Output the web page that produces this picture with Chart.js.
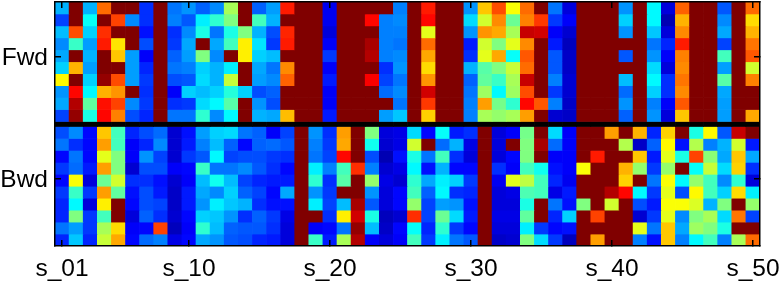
<!DOCTYPE html>
<html>
<head>
<meta charset="utf-8">
<script src="https://cdn.jsdelivr.net/npm/chart.js@4"></script>
<style>
  html, body { margin: 0; padding: 0; background: #fff; overflow: hidden; }
  canvas { display: block; }
</style>
</head>
<body>
<canvas id="myChart" width="781" height="283"></canvas>
<script>
const categories = [
  's_01','s_02','s_03','s_04','s_05','s_06','s_07','s_08','s_09','s_10',
  's_11','s_12','s_13','s_14','s_15','s_16','s_17','s_18','s_19','s_20',
  's_21','s_22','s_23','s_24','s_25','s_26','s_27','s_28','s_29','s_30',
  's_31','s_32','s_33','s_34','s_35','s_36','s_37','s_38','s_39','s_40',
  's_41','s_42','s_43','s_44','s_45','s_46','s_47','s_48','s_49','s_50'
];
const xTickLabels = ['s_01', 's_10', 's_20', 's_30', 's_40', 's_50'];
const yTickLabels = ['Bwd', 'Fwd'];

// one list per column, top row first, 0-100 along the jet colormap
const fwdColumns = [
  [30,19,31,26,29,33,63,27,29,19],
  [100,100,80,43,100,70,100,87,95,98],
  [30,38,33,28,30,28,33,37,47,40],
  [77,100,83,85,100,100,98,70,86,87],
  [100,81,100,65,68,100,80,73,81,75],
  [100,26,100,100,28,28,28,100,26,20],
  [17,17,14,20,12,16,18,17,18,16],
  [100,100,100,100,100,100,100,100,100,100],
  [24,25,17,18,22,24,20,12,17,24],
  [27,21,26,29,28,25,21,33,18,24],
  [22,36,40,100,50,33,34,31,34,42],
  [26,42,24,29,26,30,30,33,37,26],
  [54,50,40,44,100,36,57,41,46,37],
  [100,100,50,64,64,100,100,33,100,100],
  [22,44,30,35,33,29,28,20,27,30],
  [28,30,20,18,31,24,26,22,20,29],
  [85,100,84,85,100,74,78,100,100,69],
  [100,100,100,100,100,100,100,100,100,100],
  [100,100,100,100,100,100,100,100,100,100],
  [11,11,9,12,18,12,15,12,12,15],
  [100,100,100,100,100,100,100,100,100,100],
  [100,100,100,100,100,100,100,100,100,100],
  [100,87,100,96,95,100,88,100,100,100],
  [100,25,25,25,25,17,19,23,100,28],
  [25,26,25,24,26,27,24,26,24,32],
  [100,100,100,100,100,100,100,100,100,100],
  [85,87,60,77,71,66,73,92,82,67],
  [100,100,100,100,100,100,100,100,100,100],
  [100,100,100,100,100,100,100,100,100,100],
  [27,34,27,15,17,30,22,24,25,25],
  [68,58,73,58,60,46,47,53,72,54],
  [80,74,71,50,71,50,43,37,49,52],
  [62,48,54,60,38,57,54,53,42,54],
  [77,75,93,74,79,77,93,80,87,72],
  [100,82,92,100,100,100,100,100,79,100],
  [24,18,12,15,21,21,25,18,25,8],
  [9,12,8,6,7,7,8,8,7,7],
  [100,100,100,100,100,100,100,100,100,100],
  [100,100,100,100,100,100,100,100,100,100],
  [100,100,100,100,100,100,100,100,100,100],
  [27,33,27,100,21,100,31,23,27,22],
  [100,100,100,100,100,100,100,100,100,100],
  [37,37,32,24,27,34,37,33,25,27],
  [9,5,9,16,12,9,17,17,12,9],
  [78,70,74,85,75,74,76,74,79,68],
  [100,100,100,100,100,100,100,100,100,100],
  [100,100,100,100,100,100,100,100,100,100],
  [21,26,29,19,44,28,46,29,28,28],
  [100,100,100,100,100,100,100,100,100,100],
  [77,66,70,76,79,58,75,100,100,71]
];
const bwdColumns = [
  [20,24,13,18,13,18,16,16,24,16],
  [26,17,24,23,62,43,37,50,28,32],
  [13,13,13,15,9,18,9,18,18,16],
  [68,72,60,72,48,72,64,44,54,57],
  [44,44,50,50,58,47,100,100,66,71],
  [16,12,12,8,17,14,13,9,12,13],
  [20,16,27,20,17,20,20,22,13,23],
  [23,26,19,20,14,15,19,17,81,25],
  [8,8,8,12,8,7,7,8,6,10],
  [14,15,18,13,12,15,15,13,12,13],
  [28,25,21,43,31,29,27,33,42,29],
  [33,31,37,24,39,26,36,32,31,27],
  [34,22,19,24,31,33,32,27,22,21],
  [24,13,20,26,19,22,30,17,21,20],
  [22,22,20,21,16,19,17,22,21,16],
  [12,23,18,17,15,13,14,18,17,15],
  [19,21,17,13,15,29,14,10,9,9],
  [100,100,100,100,100,100,100,100,100,100],
  [27,25,24,36,42,27,36,100,12,43],
  [17,18,19,25,17,18,19,17,13,15],
  [72,71,87,44,46,100,31,64,24,54],
  [100,100,100,83,100,100,96,92,98,95],
  [50,39,20,25,52,27,21,40,31,12],
  [9,8,5,8,10,9,9,6,7,9],
  [10,10,14,10,8,13,13,8,13,12],
  [34,58,40,37,42,44,52,83,38,44],
  [13,100,24,14,29,22,19,19,16,18],
  [38,23,44,30,36,37,28,48,42,36],
  [15,30,17,13,33,17,27,34,18,24],
  [17,10,9,13,18,16,14,15,13,21],
  [100,100,100,100,100,100,100,100,100,100],
  [9,9,9,17,11,9,9,10,9,7],
  [12,100,13,12,60,10,9,10,9,8],
  [49,50,50,44,56,45,40,47,36,50],
  [100,96,100,39,44,44,100,100,18,34],
  [34,23,12,14,16,10,24,16,13,18],
  [12,12,12,12,11,15,14,33,14,6],
  [100,100,100,62,100,100,50,100,100,100],
  [100,100,85,100,100,100,100,81,100,72],
  [72,100,100,100,100,95,58,100,100,100],
  [100,55,100,70,67,87,100,100,100,100],
  [70,7,68,52,100,37,20,8,60,25],
  [16,22,15,18,24,18,15,18,24,14],
  [67,63,60,52,62,60,62,60,68,68],
  [100,14,40,100,37,20,62,26,29,25],
  [40,55,81,38,52,63,59,50,53,37],
  [63,25,51,57,44,44,30,54,50,44],
  [21,30,29,34,26,33,50,34,40,25],
  [93,58,68,67,42,66,100,76,100,54],
  [100,15,29,17,9,36,52,19,100,77]
];

const rowCount = 10;
const gapRows = 0.42;
const yMax = rowCount * 2 + gapRows;

function jet(v) {
    const t = v / 100;
    const ramp = (x) => Math.max(0, Math.min(1, x));
    const r = ramp(Math.min(4 * t - 1.5, -4 * t + 4.5));
    const g = ramp(Math.min(4 * t - 0.5, -4 * t + 3.5));
    const b = ramp(Math.min(4 * t + 0.5, -4 * t + 2.5));
    return `rgb(${Math.round(r * 255)},${Math.round(g * 255)},${Math.round(b * 255)})`;
}

function rowDatasets(columns, base) {
    const out = [];
    for (let r = 0; r < rowCount; r++) {
        const lo = base + rowCount - 1 - r;
        out.push({
            data: columns.map(() => [lo, lo + 1]),
            backgroundColor: columns.map((col) => jet(col[r])),
            borderWidth: 0,
            barPercentage: 1,
            categoryPercentage: 1,
            grouped: false,
        });
    }
    return out;
}

const separator = {
    data: categories.map(() => [rowCount, rowCount + gapRows]),
    backgroundColor: '#000',
    borderWidth: 0,
    barPercentage: 1,
    categoryPercentage: 1,
    grouped: false,
};

const keepXTicks = (scale) => {
    scale.ticks = scale.ticks.filter((t) => xTickLabels.includes(categories[t.value]));
};
const setYTicks = (scale) => {
    scale.ticks = [{ value: 5.63 }, { value: 15.85 }];
};
// the tick padding must not push the plot area in, the box sizes are fixed
const fixBox = (scale, size) => {
    if (scale.isHorizontal()) scale.height = size;
    else scale.width = size;
    scale.paddingTop = scale.paddingBottom = scale.paddingLeft = scale.paddingRight = 0;
};
const tickGrid = {
    drawOnChartArea: false,
    drawTicks: true,
    tickLength: -6,
    color: '#000',
    lineWidth: 1.5,
    offset: false,
    z: 1,
};
const frame = { color: '#000', width: 1.5, z: 1 };
const font = { family: '"Liberation Sans", sans-serif', size: 24.5 };

new Chart(document.getElementById('myChart').getContext('2d'), {
    type: 'bar',
    data: {
        labels: categories,
        datasets: [
            ...rowDatasets(fwdColumns, rowCount + gapRows),
            separator,
            ...rowDatasets(bwdColumns, 0),
        ],
    },
    options: {
        responsive: false,
        animation: false,
        layout: { padding: 0 },
        plugins: {
            legend: { display: false },
            tooltip: { enabled: false },
        },
        scales: {
            x: {
                type: 'category',
                position: 'bottom',
                offset: true,
                grid: tickGrid,
                border: frame,
                afterBuildTicks: keepXTicks,
                afterFit: (scale) => fixBox(scale, 37),
                ticks: {
                    autoSkip: false,
                    maxRotation: 0,
                    color: '#000',
                    font: font,
                    padding: 15,
                },
            },
            x2: {
                type: 'category',
                position: 'top',
                offset: true,
                grid: tickGrid,
                border: frame,
                afterBuildTicks: keepXTicks,
                afterFit: (scale) => fixBox(scale, 2),
                ticks: { display: false, autoSkip: false },
            },
            y: {
                type: 'linear',
                position: 'left',
                min: 0,
                max: yMax,
                grid: tickGrid,
                border: frame,
                afterBuildTicks: setYTicks,
                afterFit: (scale) => fixBox(scale, 0),
                ticks: { display: false, autoSkip: false },
            },
            // labels sit on their own axis, a touch lower than the tick marks.
            // left boxes stack from the last one outwards so this stays after y
            yLabels: {
                type: 'linear',
                position: 'left',
                min: 0,
                max: yMax,
                grid: { display: false, drawTicks: false },
                border: { display: false },
                afterBuildTicks: (scale) => {
                    scale.ticks = [{ value: 5.5 }, { value: 15.72 }];
                },
                afterFit: (scale) => fixBox(scale, 55),
                ticks: {
                    autoSkip: false,
                    color: '#000',
                    font: font,
                    padding: 7,
                    callback: (value) => yTickLabels[value < rowCount ? 0 : 1],
                },
            },
            y2: {
                type: 'linear',
                position: 'right',
                min: 0,
                max: yMax,
                grid: tickGrid,
                border: frame,
                afterBuildTicks: setYTicks,
                afterFit: (scale) => fixBox(scale, 21),
                ticks: { display: false, autoSkip: false },
            },
        },
    },
});
</script>
</body>
</html>
